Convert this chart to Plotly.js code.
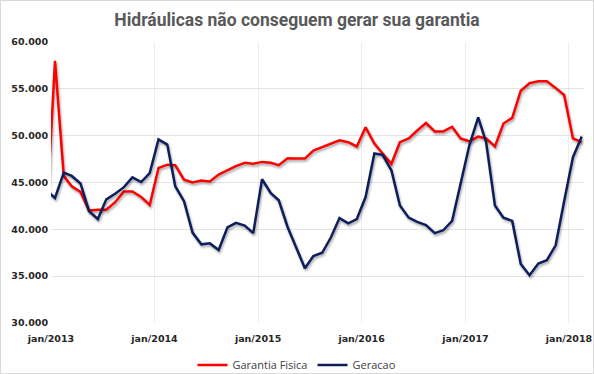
<!DOCTYPE html>
<html>
<head>
<meta charset="utf-8">
<script src="https://cdn.plot.ly/plotly-3.0.1.min.js"></script>
<style>
  html, body { margin: 0; padding: 0; background: #ffffff; }
  #wrap { position: relative; width: 594px; height: 374px; }
  #chart { width: 594px; height: 374px; }
  #frame { position: absolute; left: 0; top: 0; width: 594px; height: 374px; box-sizing: border-box; border: 1px solid #d9d9d9; pointer-events: none; }
  .scatterlayer .js-line { filter: drop-shadow(1.5px 2px 1px rgba(0,0,0,0.35)); }
</style>
</head>
<body>
<div id="wrap"><div id="chart"></div><div id="frame"></div></div>
<script>
// Monthly dates (mid-month points)
const months = [
  "2012-12-15",
  "2013-01-15","2013-02-15","2013-03-15","2013-04-15","2013-05-15","2013-06-15","2013-07-15","2013-08-15","2013-09-15","2013-10-15","2013-11-15","2013-12-15",
  "2014-01-15","2014-02-15","2014-03-15","2014-04-15","2014-05-15","2014-06-15","2014-07-15","2014-08-15","2014-09-15","2014-10-15","2014-11-15","2014-12-15",
  "2015-01-15","2015-02-15","2015-03-15","2015-04-15","2015-05-15","2015-06-15","2015-07-15","2015-08-15","2015-09-15","2015-10-15","2015-11-15","2015-12-15",
  "2016-01-15","2016-02-15","2016-03-15","2016-04-15","2016-05-15","2016-06-15","2016-07-15","2016-08-15","2016-09-15","2016-10-15","2016-11-15","2016-12-15",
  "2017-01-15","2017-02-15","2017-03-15","2017-04-15","2017-05-15","2017-06-15","2017-07-15","2017-08-15","2017-09-15","2017-10-15","2017-11-15","2017-12-15",
  "2018-01-15","2018-02-15"
];

// Garantia Fisica (MWmed)
const garantiaFisica = [
  40500,
  58000, 45700, 44600, 44000, 42000, 42100, 42100, 42900, 44050, 44050, 43450, 42600,
  46550, 46900, 46850, 45300, 45000, 45200, 45100, 45850, 46300, 46750, 47100, 47000,
  47200, 47100, 46850, 47600, 47550, 47550, 48400, 48800, 49200, 49500, 49300, 48850,
  50900, 49150, 48100, 47000, 49300, 49700, 50550, 51350, 50450, 50450, 50950, 49700,
  49400, 49900, 49700, 48850, 51300, 51900, 54800, 55600, 55800, 55800, 55100, 54350,
  49700, 49300
];

// Geracao (MWmed)
const geracao = [
  44200,
  43350, 46050, 45700, 44900, 41950, 41100, 43200, 43800, 44500, 45550, 45050, 46000,
  49600, 49050, 44600, 43000, 39650, 38400, 38500, 37800, 40200, 40700, 40400, 39600,
  45350, 43850, 43100, 40250, 38100, 35850, 37150, 37500, 39150, 41200, 40650, 41100,
  43450, 48100, 47950, 46300, 42550, 41250, 40800, 40450, 39600, 39900, 40900, 44800,
  49000, 51950, 49300, 42550, 41250, 40900, 36300, 35100, 36350, 36700, 38300, 43000,
  47700, 49900
];

// Axis ticks
const xTickVals = ["2013-01-01","2014-01-01","2015-01-01","2016-01-01","2017-01-01","2018-01-01"];
const xTickText = ["jan/2013","jan/2014","jan/2015","jan/2016","jan/2017","jan/2018"];
const yTickVals = [30000, 35000, 40000, 45000, 50000, 55000, 60000];

const traces = [
  { x: months, y: garantiaFisica, type: "scatter", mode: "lines", name: "Garantia Fisica",
    line: { color: "#ff0000", width: 2.5 } },
  { x: months, y: geracao, type: "scatter", mode: "lines", name: "Geracao",
    line: { color: "#0c1f5c", width: 2.5 } }
];

const layout = {
  width: 594, height: 374,
  paper_bgcolor: "#ffffff", plot_bgcolor: "#ffffff",
  separators: ",.",
  margin: { l: 51, r: 10, t: 42, b: 51, pad: 0 },
  title: {
    text: "Hidráulicas não conseguem gerar sua garantia",
    font: { family: "Liberation Sans Narrow, Roboto, sans-serif", size: 17.5, color: "#595959", weight: 700 },
    x: 0.5, xref: "container", xanchor: "center",
    y: 1 - 20/374, yref: "container", yanchor: "middle"
  },
  xaxis: {
    type: "date",
    range: ["2013-01-01", "2018-02-23"],
    tickmode: "array", tickvals: xTickVals, ticktext: xTickText,
    showgrid: true, gridcolor: "#ececec", gridwidth: 1,
    zeroline: false, showline: false, ticks: "",
    tickfont: { family: "DejaVu Sans, sans-serif", size: 9.5, color: "#262626", weight: 700 },
    ticklabelstandoff: 8
  },
  yaxis: {
    range: [30000, 60000],
    tickmode: "array", tickvals: yTickVals,
    tickformat: ",d",
    showgrid: true, gridcolor: "#e3e3e3", gridwidth: 1,
    zeroline: false, showline: false, ticks: "",
    tickfont: { family: "DejaVu Sans, sans-serif", size: 9.5, color: "#262626", weight: 700 },
    ticklabelstandoff: 2
  },
  showlegend: true,
  legend: {
    orientation: "h",
    x: 0.5, xref: "container", xanchor: "center",
    y: 1 - 365/374, yref: "container", yanchor: "middle",
    font: { family: "Open Sans, sans-serif", size: 11, color: "#404040" },
    itemwidth: 30, tracegroupgap: 0
  }
};

Plotly.newPlot("chart", traces, layout, { displayModeBar: false, staticPlot: true });
</script>
</body>
</html>
